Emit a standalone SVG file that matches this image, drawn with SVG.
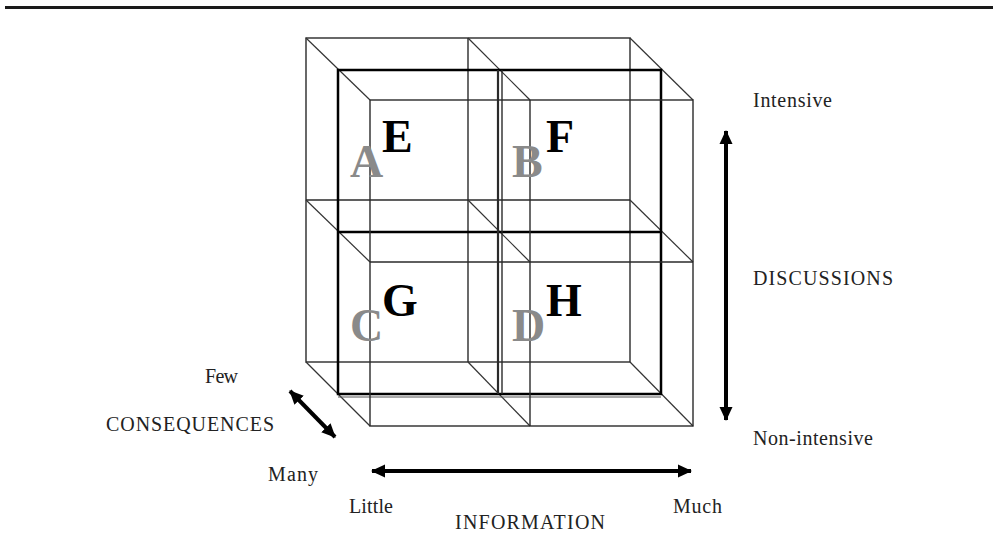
<svg xmlns="http://www.w3.org/2000/svg" width="1000" height="546" viewBox="0 0 1000 546">
<style>
.back{fill:none;stroke:#2a2a2a;stroke-width:1.4}
.mid{fill:none;stroke:#000;stroke-width:2.5}
.front{fill:none;stroke:#2a2a2a;stroke-width:1.4}
.diag{stroke:#333;stroke-width:1.2}
.arr{stroke:#000;stroke-width:4;fill:none}
.big{font-family:"Liberation Serif","Times New Roman",serif;font-weight:bold;font-size:46px}
.blk{fill:#000}
.gry{fill:#8a8a8a}
.lbl{font-family:"Liberation Serif","Times New Roman",serif;font-size:20px;fill:#222}
</style>
<defs>
<marker id="ah" markerUnits="userSpaceOnUse" markerWidth="16" markerHeight="14" refX="13" refY="7" orient="auto-start-reverse">
<path d="M0,0.5 L14,7 L0,13.5 Z" fill="#000"/>
</marker>
</defs>
<rect width="1000" height="546" fill="#fff"/>
<line x1="5" y1="7.5" x2="993" y2="7.5" stroke="#1a1a1a" stroke-width="3"/>
<g id="cube">
<g id="back-layer">
<rect class="back" x="306" y="38" width="324" height="324"/>
<line class="back" x1="468" y1="38" x2="468" y2="362"/>
<line class="back" x1="306" y1="200" x2="630" y2="200"/>
</g>
<g id="diagonals">
<line class="diag" x1="306" y1="38" x2="370" y2="100"/>
<line class="diag" x1="468" y1="38" x2="530" y2="100"/>
<line class="diag" x1="630" y1="38" x2="693" y2="100"/>
<line class="diag" x1="306" y1="200" x2="370" y2="262"/>
<line class="diag" x1="468" y1="200" x2="530" y2="262"/>
<line class="diag" x1="630" y1="200" x2="693" y2="262"/>
<line class="diag" x1="306" y1="362" x2="370" y2="426"/>
<line class="diag" x1="468" y1="362" x2="530" y2="426"/>
<line class="diag" x1="630" y1="362" x2="693" y2="426"/>
</g>
<g id="middle-layer">
<rect class="mid" x="338" y="70" width="323" height="324"/>
<line class="mid" x1="338" y1="232" x2="661" y2="232"/>
<line class="back" x1="498" y1="70" x2="498" y2="394" style="stroke-width:2.2"/>
<line class="back" x1="502" y1="70" x2="502" y2="394"/>
<line class="back" x1="338" y1="397" x2="661" y2="397" style="stroke:#555;stroke-width:1.1"/>
</g>
<g id="front-layer">
<rect class="front" x="370" y="100" width="323" height="326"/>
<line class="front" x1="530" y1="100" x2="530" y2="426"/>
<line class="front" x1="370" y1="262" x2="693" y2="262"/>
</g>
</g>
<g id="cell-A"><text class="big gry" x="350" y="177">A</text></g>
<g id="cell-E"><text class="big blk" x="382" y="152">E</text></g>
<g id="cell-B"><text class="big gry" x="512" y="177">B</text></g>
<g id="cell-F"><text class="big blk" x="546" y="152">F</text></g>
<g id="cell-C"><text class="big gry" x="350" y="341">C</text></g>
<g id="cell-G"><text class="big blk" x="382" y="316">G</text></g>
<g id="cell-D"><text class="big gry" x="512" y="341">D</text></g>
<g id="cell-H"><text class="big blk" x="546" y="316">H</text></g>
<g id="connectors">
<line class="arr" x1="726" y1="131" x2="726" y2="420" marker-start="url(#ah)" marker-end="url(#ah)"/>
<line class="arr" x1="372" y1="471" x2="691" y2="471" marker-start="url(#ah)" marker-end="url(#ah)"/>
<line class="arr" x1="290" y1="391" x2="335" y2="437" marker-start="url(#ah)" marker-end="url(#ah)"/>
</g>
<g id="axis-discussions">
<text class="lbl" x="753" y="107" textLength="79">Intensive</text>
<text class="lbl" x="753" y="285" textLength="140">DISCUSSIONS</text>
<text class="lbl" x="753" y="445" textLength="120">Non-intensive</text>
</g>
<g id="axis-consequences">
<text class="lbl" x="205" y="383" textLength="33">Few</text>
<text class="lbl" x="106" y="431" textLength="168">CONSEQUENCES</text>
<text class="lbl" x="268" y="481" textLength="50">Many</text>
</g>
<g id="axis-information">
<text class="lbl" x="349" y="513" textLength="44">Little</text>
<text class="lbl" x="673" y="513" textLength="49">Much</text>
<text class="lbl" x="455" y="529" textLength="150">INFORMATION</text>
</g>
</svg>
